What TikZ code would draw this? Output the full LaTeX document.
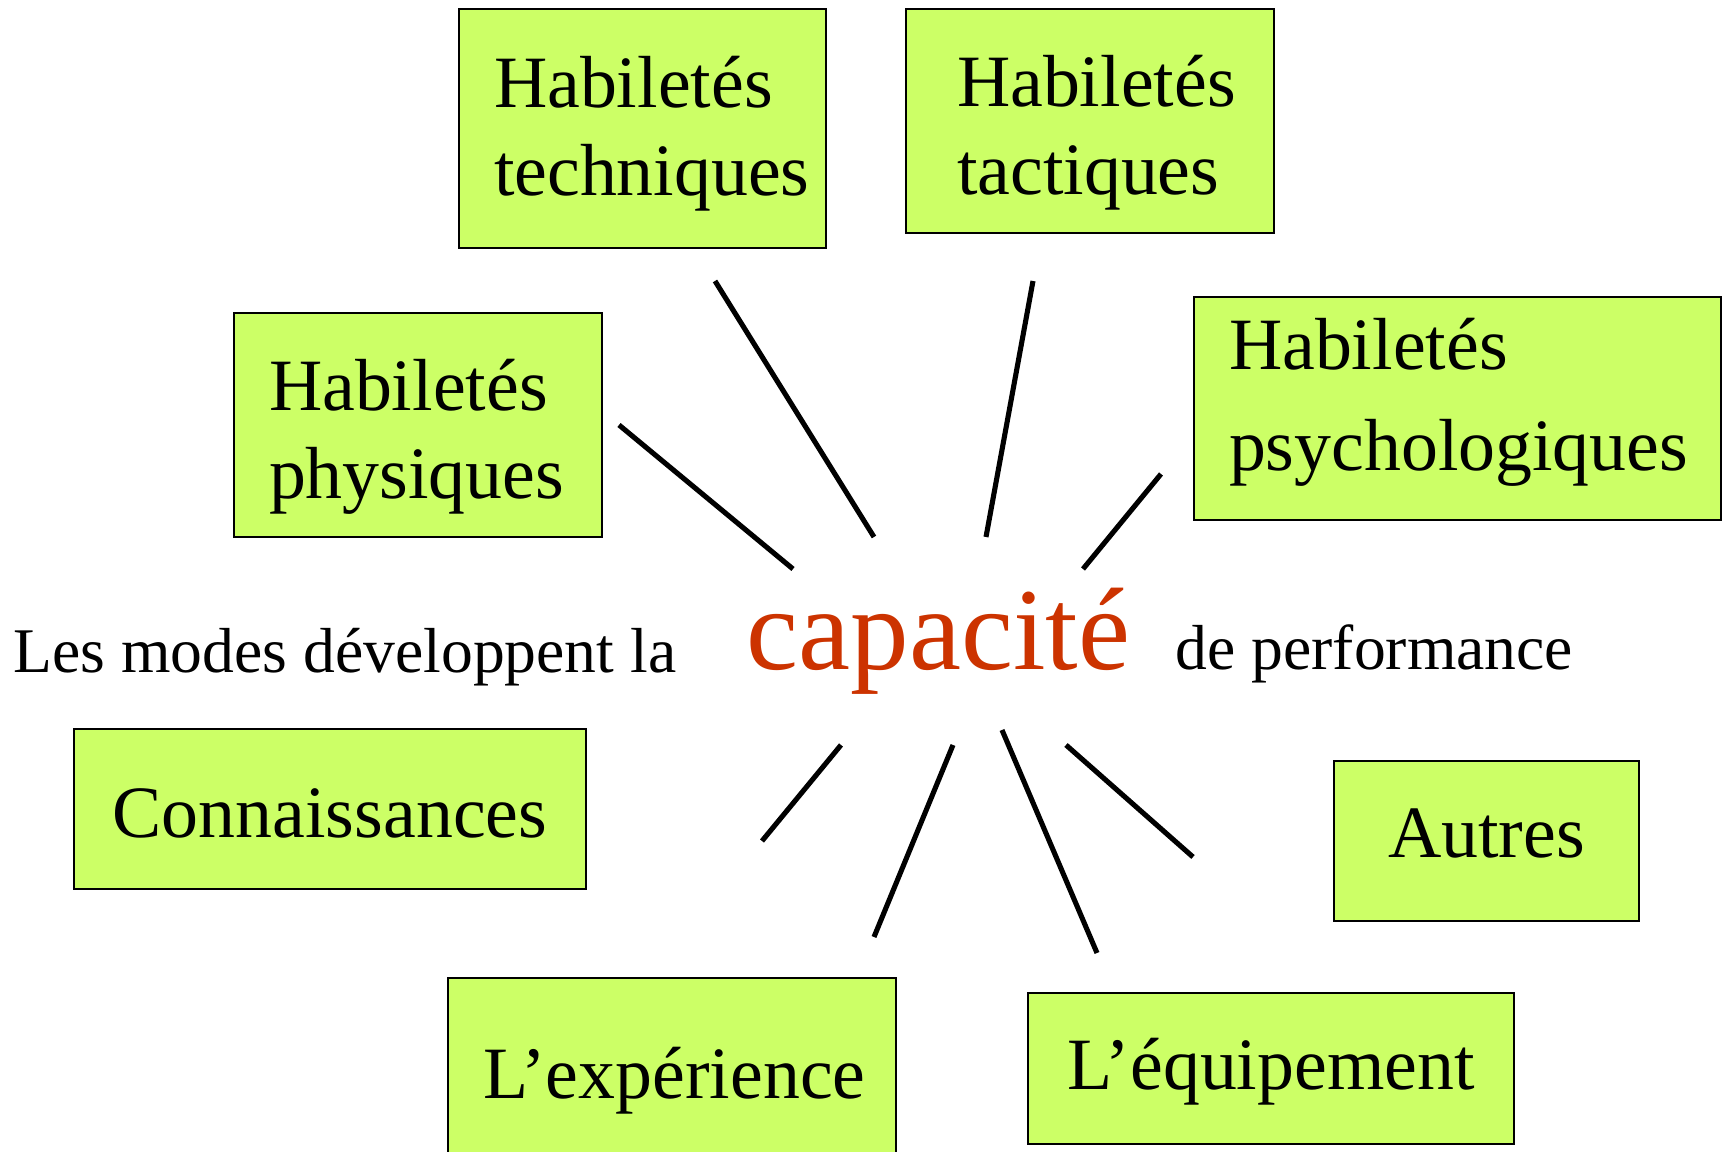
\documentclass[tikz,border=0pt]{standalone}
\usepackage{fontspec}
\setmainfont{Liberation Serif}
\definecolor{boxgreen}{HTML}{CCFF66}
\definecolor{caprouge}{HTML}{CC3300}
\tikzset{
  skill/.style={draw, fill=boxgreen, line width=0.7pt, align=left, inner xsep=0.35cm, inner ysep=0pt,
    font=\fontsize{21}{24.8}\selectfont},
  spoke/.style={line width=1.45pt, black},
  phrase/.style={anchor=base west, inner sep=0, font=\fontsize{18.1}{22}\selectfont}
}
\begin{document}
\begin{tikzpicture}
\useasboundingbox (0,0) rectangle (17.29,11.52);
\clip (0,0) rectangle (17.29,11.52);
% les habiletes
\node[skill, text width=2.97cm, text height=0.99cm, text depth=1.40cm] (tech) at (6.425,10.235) {Habiletés\\techniques};
\node[skill, inner xsep=0.51cm, text width=2.66cm, text height=0.98cm, text depth=1.26cm] (tact) at (10.90,10.31) {Habiletés\\tactiques};
\node[skill, text width=2.98cm, text height=0.98cm, text depth=1.26cm] (phys) at (4.18,7.27) {Habiletés\\physiques};
\node[skill, font=\fontsize{21}{28.5}\selectfont, text width=4.57cm, text height=0.73cm, text depth=1.50cm] (psych) at (14.575,7.435) {Habiletés\\psychologiques};
% les autres
\node[skill, align=center, text width=4.42cm, text height=1.09cm, text depth=0.51cm] (conn) at (3.30,3.43) {Connaissances};
\node[skill, align=center, text width=2.35cm, text height=0.97cm, text depth=0.63cm] (autres) at (14.865,3.11) {Autres};
\node[skill, align=center, text width=3.78cm, text height=1.21cm, text depth=1.01cm] (exp) at (6.72,0.63) {L’expérience};
\node[skill, align=center, text width=4.16cm, text height=0.97cm, text depth=0.54cm] (equip) at (12.71,0.835) {L’équipement};
% la phrase
\node[phrase] (modes) at (0.13,4.79) {Les modes développent la};
\node[phrase, font=\fontsize{33.3}{38}\selectfont, text=caprouge] (cap) at (7.46,4.82) {capacité};
\node[phrase] (perf) at (11.75,4.82) {de performance};
% les rayons
\foreach \n/\p/\q in {1/{6.19,7.27}/{7.93,5.83}, 2/{7.15,8.71}/{8.74,6.15},
    3/{10.33,8.71}/{9.86,6.15}, 4/{11.61,6.78}/{10.83,5.83},
    5/{8.41,4.07}/{7.62,3.11}, 6/{9.53,4.07}/{8.74,2.15},
    7/{10.02,4.22}/{10.97,1.99}, 8/{10.66,4.07}/{11.93,2.95}}{
  \coordinate (r\n a) at (\p);
  \coordinate (r\n b) at (\q);
  \draw[spoke] (r\n a) -- (r\n b);
}
\end{tikzpicture}
\end{document}
